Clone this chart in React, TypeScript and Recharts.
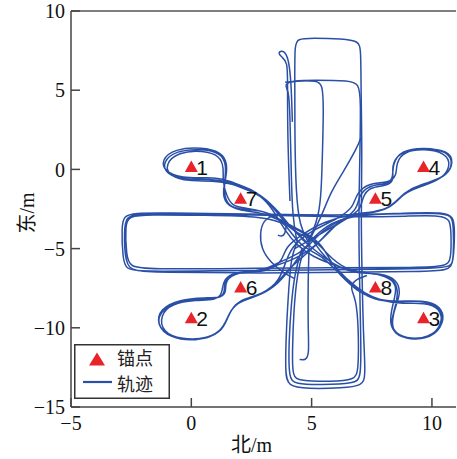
import { ComposedChart, Line, Scatter, XAxis, YAxis, ReferenceLine } from "recharts";

type P = [number, number];

const xTicks = [-5, 0, 5, 10];
const yTicks = [-15, -10, -5, 0, 5, 10];

// anchor positions (north, east) in metres
const anchorIds = ["1", "2", "3", "4", "5", "6", "7", "8"];
const anchorX = [0, 0, 9.65, 9.65, 7.65, 2.05, 2.05, 7.65];
const anchorY = [0.15, -9.4, -9.4, 0.15, -1.85, -7.45, -1.85, -7.45];

// north-south corridor laps
const vertLapA: P[] = [
  [4.9, -4.7], [4.5, -3.6], [4.35, -1.5], [4.3, 2.0], [4.3, 6.0], [4.3, 7.8], [4.4, 8.25], [5.0, 8.3],
  [6.3, 8.25], [6.95, 8.1], [7.05, 7.6], [7.05, 5.0], [7.1, 1.0], [7.05, -3.0], [7.1, -7.0], [7.15, -10.5],
  [7.25, -13.1], [7.1, -13.65], [6.3, -13.8], [4.8, -13.85], [4.0, -13.7], [3.9, -12.8], [3.95, -10.0],
  [4.05, -7.5], [4.15, -5.5], [4.4, -4.6],
];
const vertLapB: P[] = [
  [4.4, -4.6], [4.2, -3.0], [4.15, 0.0], [4.1, 3.5], [4.05, 5.0], [3.85, 5.35], [4.2, 5.6], [5.1, 5.65],
  [6.6, 5.6], [6.95, 5.4], [7.05, 4.5], [7.0, 0.5], [6.95, -3.5], [7.0, -7.5], [7.05, -11.0], [7.05, -13.2],
  [6.8, -13.5], [5.4, -13.6], [4.3, -13.55], [4.05, -13.2], [4.05, -11.0], [4.15, -8.5], [4.3, -6.5], [4.6, -5.0],
];
const vertLapC: P[] = [
  [4.7, -4.9], [4.4, -6.5], [4.25, -9.0], [4.2, -11.5], [4.2, -13.1], [4.5, -13.35], [5.8, -13.4],
  [6.8, -13.3], [6.95, -12.7], [6.95, -10.0], [6.85, -8.2], [6.6, -7.5], [6.75, -7.0], [7.3, -6.7],
];
const vertInner: P[] = [
  [3.9, 5.5], [4.5, 5.6], [5.2, 5.6], [5.45, 5.4], [5.5, 4.0], [5.45, 1.0], [5.4, -1.5], [5.3, -2.8],
  [5.05, -4.0], [4.8, -4.6],
];
const vertFlag: P[] = [
  [4.1, -2.0], [4.0, 2.0], [4.0, 5.5], [4.0, 6.8], [3.75, 7.1], [3.6, 7.35], [3.75, 7.5], [3.9, 7.4],
  [4.05, 6.9], [4.15, 5.5], [4.2, 3.0],
];
const vertHook: P[] = [[4.9, -4.7], [4.85, -7.0], [4.85, -10.0], [4.9, -11.7], [4.75, -12.05], [4.5, -12.0]];

// east-west corridor, three laps walked one after another
const horizLapA: P[] = [
  [4.9, -4.6], [5.6, -3.5], [6.6, -2.95], [8.0, -2.8], [10.4, -2.75], [10.8, -2.95], [10.9, -3.4],
  [10.9, -5.7], [10.8, -6.15], [10.1, -6.25], [8.0, -6.3], [5.0, -6.35], [1.0, -6.4], [-2.2, -6.45],
  [-2.7, -6.3], [-2.85, -5.7], [-2.9, -3.6], [-2.8, -2.95], [-2.4, -2.75], [-1.0, -2.75], [1.5, -2.8],
];
const horizLapB: P[] = [
  [4.0, -2.85], [6.5, -2.9], [9.0, -2.75], [10.5, -2.7], [10.9, -3.0], [10.95, -3.8], [10.9, -5.9],
  [10.7, -6.4], [9.5, -6.45], [6.5, -6.5], [3.0, -6.55], [-1.5, -6.5], [-2.4, -6.4], [-2.75, -6.0],
  [-2.8, -3.8], [-2.7, -3.0], [-2.3, -2.8], [-0.5, -2.85], [2.0, -2.85],
];
const horizLapC: P[] = [
  [4.5, -2.95], [7.0, -3.0], [9.0, -2.95], [10.4, -2.9], [10.75, -3.15], [10.8, -4.0], [10.8, -5.7],
  [10.6, -6.15], [9.0, -6.2], [6.0, -6.2], [2.0, -6.25], [-1.8, -6.3], [-2.55, -6.15], [-2.7, -5.5],
  [-2.75, -3.5], [-2.6, -2.95], [-1.8, -2.85], [0.5, -2.9], [3.0, -2.95], [4.1, -3.5], [4.7, -4.5],
];

// loops round anchors 7 and 1
const nwLapA: P[] = [
  [4.8, -4.6], [4.2, -3.8], [3.6, -2.6], [2.9, -1.6], [2.3, -1.2], [1.6, -0.8], [0.8, -0.6], [-0.3, -0.65],
  [-1.05, -0.3], [-1.2, 0.45], [-0.65, 1.2], [0.5, 1.3], [1.25, 1.0], [1.45, 0.3], [1.4, -0.6],
  [1.35, -1.45], [1.5, -2.3], [2.1, -2.55], [2.9, -2.55], [3.7, -3.1], [4.2, -4.1], [4.6, -4.9],
];
const nwLapB: P[] = [
  [3.9, -3.9], [3.5, -2.8], [3.0, -1.75], [2.4, -1.35], [1.7, -0.9], [0.9, -0.7], [-0.1, -0.75],
  [-0.9, -0.45], [-1.1, 0.3], [-0.55, 1.1], [0.5, 1.2], [1.2, 0.85], [1.35, 0.1], [1.3, -0.75],
  [1.45, -1.6], [1.7, -2.35], [2.3, -2.45], [3.1, -2.65], [4.0, -3.45], [4.9, -4.1], [5.5, -4.9],
];
const nwLapC: P[] = [
  [4.3, -4.0], [3.8, -3.2], [3.3, -2.2], [2.7, -1.4], [2.1, -1.05], [1.5, -0.65], [0.7, -0.5], [-0.4, -0.55],
  [-1.1, -0.15], [-1.25, 0.6], [-0.7, 1.3], [0.45, 1.4], [1.25, 1.1], [1.5, 0.4], [1.45, -0.5],
  [1.3, -1.35], [1.4, -2.2], [2.0, -2.6], [2.8, -2.7], [3.5, -3.05], [4.5, -3.9], [5.0, -4.3],
];

// loops round anchors 8 and 3
const seLapA: P[] = [
  [5.5, -5.5], [6.2, -6.7], [6.9, -7.7], [7.5, -8.1], [8.2, -8.35], [9.0, -8.3], [9.9, -8.3],
  [10.45, -8.8], [10.5, -9.7], [10.0, -10.65], [9.1, -10.75], [8.4, -10.4], [8.3, -9.6], [8.45, -8.8],
  [8.6, -7.9], [8.5, -7.0], [7.9, -6.6], [7.1, -6.55], [6.2, -6.2], [5.0, -5.5], [4.4, -4.8],
];
const seLapB: P[] = [
  [5.8, -5.9], [6.4, -6.9], [7.1, -7.9], [7.8, -8.3], [8.6, -8.4], [9.5, -8.25], [10.3, -8.6],
  [10.5, -9.5], [10.15, -10.5], [9.3, -10.8], [8.6, -10.55], [8.25, -9.9], [8.3, -9.0], [8.45, -8.1],
  [8.55, -7.3], [8.15, -6.75], [7.3, -6.5], [6.4, -6.35], [5.6, -5.3], [5.2, -4.5],
];
const seLapC: P[] = [
  [5.4, -5.3], [5.9, -6.0], [6.5, -7.0], [7.2, -7.85], [7.9, -8.3], [8.8, -8.5], [9.7, -8.4],
  [10.35, -8.75], [10.45, -9.8], [9.9, -10.65], [8.9, -10.7], [8.35, -10.2], [8.35, -9.4], [8.5, -8.6],
  [8.7, -7.8], [8.55, -6.95], [7.9, -6.55], [6.9, -6.6], [6.0, -6.1], [5.2, -5.2], [4.6, -4.4],
];

// loops round anchors 5 and 4
const neLapA: P[] = [
  [4.3, -5.0], [5.6, -3.9], [6.4, -3.1], [6.9, -2.5], [6.95, -1.7], [7.35, -1.0], [8.1, -0.95],
  [8.4, -0.6], [8.35, 0.3], [8.7, 1.2], [9.7, 1.4], [10.65, 1.15], [10.9, 0.35], [10.55, -0.5],
  [9.7, -0.95], [9.0, -1.3], [8.6, -1.85], [8.2, -2.5], [7.5, -2.75], [6.5, -2.9], [5.4, -3.9], [4.9, -4.8],
];
const neLapB: P[] = [
  [5.1, -3.8], [6.1, -3.1], [6.75, -2.4], [6.85, -1.5], [7.4, -0.85], [8.2, -0.85], [8.55, -0.4],
  [8.5, 0.4], [8.85, 1.15], [9.7, 1.3], [10.55, 1.05], [10.8, 0.3], [10.45, -0.6], [9.6, -1.05],
  [8.9, -1.45], [8.5, -2.05], [8.0, -2.6], [7.3, -2.8], [6.3, -2.95], [5.6, -4.2], [5.0, -5.0],
];
const neLapC: P[] = [
  [5.5, -4.3], [5.8, -3.7], [6.6, -3.0], [7.05, -2.5], [7.1, -1.8], [7.4, -1.1], [8.1, -1.05],
  [8.45, -0.7], [8.3, 0.2], [8.65, 1.1], [9.6, 1.35], [10.7, 1.2], [10.9, 0.45], [10.65, -0.4],
  [9.8, -0.85], [9.1, -1.2], [8.7, -1.75], [8.3, -2.4], [7.6, -2.7], [6.7, -2.8], [5.5, -3.3], [4.6, -4.1],
];

// loops round anchors 6 and 2
const swLapA: P[] = [
  [4.5, -5.3], [3.6, -5.9], [3.0, -6.35], [2.4, -6.45], [1.8, -6.5], [1.35, -7.0], [1.4, -7.8],
  [1.2, -8.15], [0.4, -8.15], [-0.6, -8.3], [-1.35, -9.0], [-1.4, -10.0], [-0.7, -10.7], [0.4, -10.8],
  [1.25, -10.3], [1.5, -9.4], [1.75, -8.6], [2.2, -8.15], [2.9, -7.9], [3.7, -7.1], [4.0, -5.3], [4.5, -4.4],
];
const swLapB: P[] = [
  [4.4, -5.6], [3.3, -6.2], [2.6, -6.45], [1.9, -6.45], [1.3, -6.9], [1.3, -7.9], [1.0, -8.25],
  [0.2, -8.25], [-0.8, -8.45], [-1.3, -9.2], [-1.2, -10.3], [-0.4, -10.75], [0.7, -10.7], [1.35, -10.05],
  [1.55, -9.1], [1.9, -8.4], [2.5, -8.1], [3.3, -7.7], [4.0, -6.3], [4.9, -5.2],
];
const swLapC: P[] = [
  [3.9, -4.9], [3.8, -5.8], [3.2, -6.4], [2.5, -6.5], [1.95, -6.5], [1.4, -6.95], [1.45, -7.7],
  [1.3, -8.1], [0.6, -8.1], [-0.5, -8.2], [-1.3, -8.8], [-1.45, -9.8], [-0.9, -10.65], [0.2, -10.85],
  [1.1, -10.45], [1.45, -9.6], [1.65, -8.8], [2.1, -8.25], [2.8, -8.0], [3.6, -7.3], [4.3, -5.9], [4.9, -4.6],
];

// stray pieces near the crossing
const strayCurve: P[] = [[3.4, -2.9], [3.0, -3.2], [2.85, -4.0], [2.9, -5.0], [3.3, -5.9], [3.9, -6.6], [4.3, -6.9]];
const strayHook: P[] = [[3.95, -3.5], [3.9, -4.1], [3.75, -4.25], [3.6, -4.15]];
const strayDiag: P[] = [[7.05, 2.0], [6.9, 1.4], [6.3, -0.2], [5.8, -1.4], [5.4, -3.0], [4.9, -4.5]];

// diagonal walks pass through the crossing from one petal to the opposite one
const tracks: P[][] = [
  vertLapA, vertLapB, vertLapC, vertInner, vertFlag, vertHook,
  [...horizLapA, ...horizLapB, ...horizLapC],
  [...nwLapA, ...seLapA, ...nwLapB, ...seLapB, ...nwLapC, ...seLapC],
  [...neLapA, ...swLapA, ...neLapB, ...swLapB, ...neLapC, ...swLapC],
  strayCurve, strayHook, strayDiag,
];

const toPts = (a: P[]) => a.map(([x, y]) => ({ x, y }));
const anchors = anchorIds.map((id, i) => ({ id, x: anchorX[i], y: anchorY[i] }));

const TRACK = "#2a4fa6";
const RED = "#e8232a";
const serif = "'Liberation Serif', 'Times New Roman', 'Noto Sans CJK SC', serif";
const sans = "'Liberation Sans', Arial, sans-serif";
const cjk = "'Noto Sans CJK SC', sans-serif";

const fmt = (v: number) => (v < 0 ? `\u2212${-v}` : `${v}`);

function Anchor(props: any) {
  const { cx, cy, payload } = props;
  return (
    <g>
      <polygon points={`${cx},${cy - 6.5} ${cx - 6.5},${cy + 5} ${cx + 6.5},${cy + 5}`} fill={RED} />
      <text x={cx + 5} y={cy + 7.5} fontSize={21} fontFamily={sans} fill="#111">
        {payload.id}
      </text>
    </g>
  );
}

function LegendBox() {
  return (
    <svg width={96} height={55} style={{ position: "absolute", left: 74, top: 344 }}>
      <rect x={0.75} y={0.75} width={94.5} height={53.5} fill="#fff" stroke="#333" strokeWidth={1.5} />
      <polygon points="23,8.5 15,21.5 31,21.5" fill={RED} />
      <line x1={9} y1={38} x2={38} y2={38} stroke={TRACK} strokeWidth={2.2} />
      <text x={43} y={21} fontSize={18} fontFamily={cjk} fill="#222">
        锚点
      </text>
      <text x={43} y={47} fontSize={18} fontFamily={cjk} fill="#222">
        轨迹
      </text>
    </svg>
  );
}

const tickStyle = { fill: "#111", fontSize: 20, fontFamily: serif };
const axisStroke = { stroke: "#444", strokeWidth: 1.5 };

export default function App() {
  return (
    <div style={{ position: "absolute", left: 0, top: 0, width: 457, height: 459, background: "#fff" }}>
      <ComposedChart width={457} height={459} margin={{ top: 11, right: 1, bottom: 0, left: 0 }}>
        <XAxis
          type="number"
          dataKey="x"
          domain={[-5, 11]}
          allowDataOverflow
          ticks={xTicks}
          interval={0}
          tickFormatter={fmt}
          tick={tickStyle}
          tickSize={-9}
          tickMargin={18}
          tickLine={axisStroke}
          axisLine={axisStroke}
          height={52}
          label={{
            content: (p: any) => (
              <text x={p.viewBox.x + 160} y={p.viewBox.y + 45} fontSize={20} fontFamily={serif} fill="#111">
                北/m
              </text>
            ),
          }}
        />
        <YAxis
          type="number"
          dataKey="y"
          domain={[-15, 10]}
          allowDataOverflow
          ticks={yTicks}
          interval={0}
          tickFormatter={fmt}
          tick={tickStyle}
          tickSize={-9}
          tickMargin={15}
          tickLine={axisStroke}
          axisLine={axisStroke}
          width={71}
          label={{
            content: (p: any) => {
              const cx = p.viewBox.x + 27;
              const cy = p.viewBox.y + p.viewBox.height / 2 + 4;
              return (
                <text
                  x={cx}
                  y={cy}
                  transform={`rotate(-90 ${cx} ${cy})`}
                  textAnchor="middle"
                  dominantBaseline="central"
                  fontSize={20}
                  fontFamily={serif}
                  fill="#111"
                >
                  东/m
                </text>
              );
            },
          }}
        />
        <ReferenceLine y={10} stroke="#555" strokeWidth={1.5} />
        {tracks.map((t, i) => (
          <Line
            key={i}
            data={toPts(t)}
            dataKey="y"
            type="basis"
            stroke={TRACK}
            strokeWidth={1.5}
            dot={false}
            activeDot={false}
            isAnimationActive={false}
          />
        ))}
        <Scatter data={anchors} dataKey="y" shape={<Anchor />} isAnimationActive={false} />
      </ComposedChart>
      <LegendBox />
    </div>
  );
}
